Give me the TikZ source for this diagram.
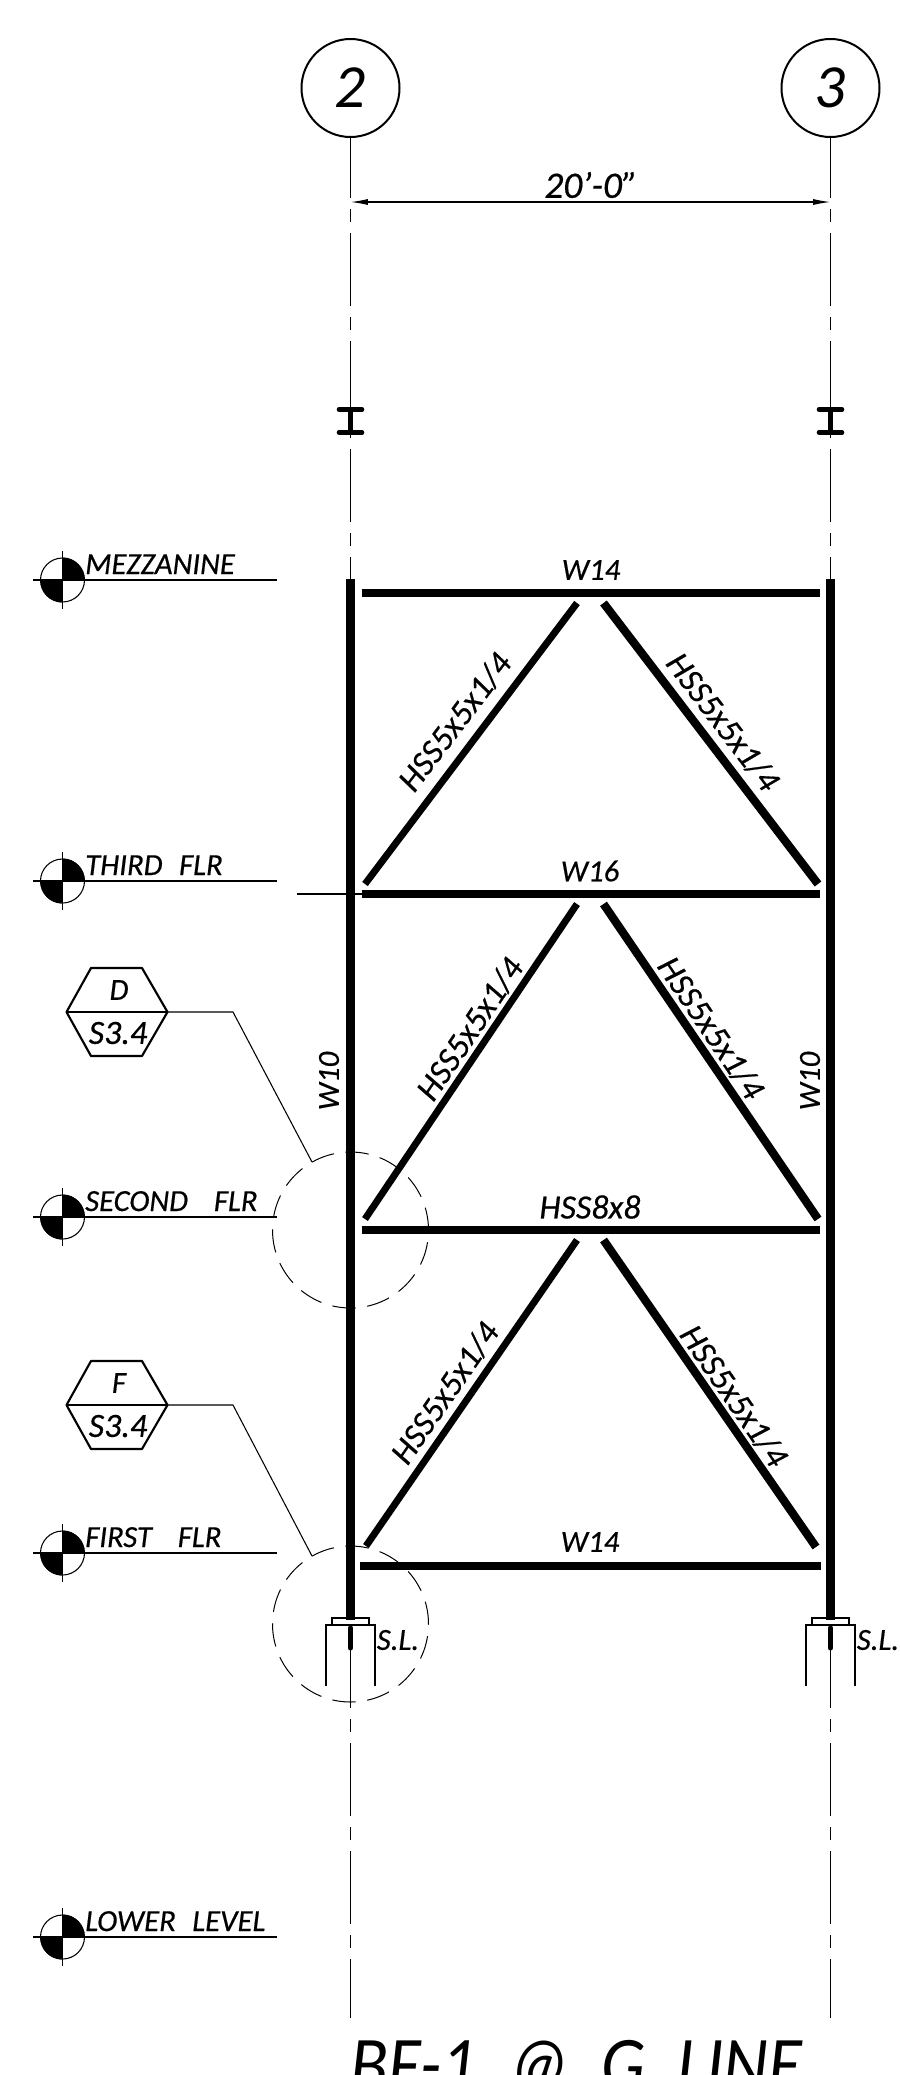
\documentclass[tikz,border=0pt]{standalone}
\usepackage{fontspec}
\setmainfont{Carlito}[ItalicFeatures={FakeBold=.5}]
\newfontfamily\cadthin{Carlito}
\newfontfamily\cadtitle{Carlito}[ItalicFeatures={FakeStretch=.9}]
\usetikzlibrary{arrows.meta}
\tikzset{
	cadtext/.style={inner sep=0pt,font=\itshape\fontsize{23}{23}\selectfont},
	hsstext/.style={inner sep=0pt,font=\itshape\fontsize{25.5}{25.5}\selectfont},
	bubble/.style={draw,shape=circle,line width=1.5pt,minimum size=73.5pt,inner sep=0pt,font=\cadthin\itshape\fontsize{46}{46}\selectfont},
	gridline/.style={line width=.75pt,dash pattern=on 54.75pt off 8.25pt on 9.75pt off 8.25pt,dash phase=9.75pt},
	thinline/.style={line width=.8pt},
	column/.style={line width=6.2pt},
	beam/.style={line width=6.4pt},
	leftbrace/.style={line width=5.2pt},
	rightbrace/.style={line width=6.2pt},
	hexline/.style={line width=1.6pt,line join=round},
	detail/.style={draw,shape=circle,line width=.75pt,minimum size=117pt,inner sep=0pt,dash pattern=on 17.6pt off 8.66pt,dash phase=.6pt},
	levelcirc/.style={draw,shape=circle,line width=.8pt,minimum size=33pt,inner sep=0pt}
}
\begin{document}
\begin{tikzpicture}[x=.75pt,y=-.75pt]
	\useasboundingbox (0,0) rectangle (900,2075);

	\node[bubble] (GA) at (350.5,88) {2};
	\node[bubble] (GB) at (830.5,88) {3};
	\coordinate (CAT) at (350.5,579);
	\coordinate (CBT) at (830.5,579);
	\coordinate (CAB) at (350.5,1620);
	\coordinate (CBB) at (830.5,1620);
	\coordinate (SAB) at (350.5,1648);
	\coordinate (SBB) at (830.5,1648);
	\coordinate (EA) at (350.5,2018);
	\coordinate (EB) at (830.5,2018);

	\draw[gridline] (GA)--(CAT);
	\draw[gridline] (GB)--(CBT);
	\draw[gridline] (SAB)--(EA);
	\draw[gridline] (SBB)--(EB);

	\coordinate (DA) at (350.5,202);
	\coordinate (DB) at (830.5,202);
	\draw[line width=.9pt,{Latex[length=13pt,width=4.5pt]}-{Latex[length=13pt,width=4.5pt]}] (DA)--(DB);
	\node[cadtext,font=\itshape\fontsize{28}{28}\selectfont] (DT) at (591,185) {20'-0"};

	% steel sections on the grid lines
	\foreach \n/\x in {A/350.5,B/830.5}{
		\draw[line width=3.4pt,line cap=round] (\x-11.5,409.5)--(\x+11.5,409.5);
		\draw[line width=3.4pt,line cap=round] (\x-11.5,432.5)--(\x+11.5,432.5);
		\draw[line width=3.6pt] (\x,409.5)--(\x,432.5);
	}

	\draw[column] (CAT)--(CAB);
	\draw[column] (CBT)--(CBB);
	\draw[line width=3.8pt,line cap=round] (350.5,1628)--(SAB);
	\draw[line width=3.8pt,line cap=round] (830.5,1628)--(SBB);

	% base plates and footings
	\foreach \n/\x in {A/350.5,B/830.5}{
		\draw[line width=.9pt] (\x-18.5,1624)--(\x-18.5,1618)--(\x+18.5,1618)--(\x+18.5,1624);
		\draw[line width=1.7pt] (\x-24.5,1686)--(\x-24.5,1625)--(\x+24.5,1625)--(\x+24.5,1686);
	}

	\coordinate (BAL) at (361.5,593);
	\coordinate (BAR) at (819.5,593);
	\coordinate (BBL) at (361.5,894);
	\coordinate (BBR) at (819.5,894);
	\coordinate (BCL) at (361.5,1230);
	\coordinate (BCR) at (819.5,1230);
	\coordinate (BDL) at (359.5,1566);
	\coordinate (BDR) at (820.5,1566);
	\coordinate (BX) at (297,894);
	\draw[beam] (BAL)--(BAR);
	\draw[beam] (BBL)--(BBR);
	\draw[beam] (BCL)--(BCR);
	\draw[beam] (BDL)--(BDR);
	\draw[line width=1.1pt] (BX)--(BBL);

	\node[cadtext] (TA) at (591,570) {W14};
	\node[cadtext] (TB) at (590,871) {W16};
	\node[hsstext] (TC) at (590,1207) {HSS8x8};
	\node[cadtext] (TD) at (590,1542) {W14};
	\node[cadtext,rotate=90] (TE) at (329,1081) {W10};
	\node[cadtext,rotate=90] (TF) at (810,1081) {W10};

	\coordinate (AL) at (365,884);
	\coordinate (AM) at (577,603);
	\coordinate (AN) at (603.5,603);
	\coordinate (AR) at (818,884);
	\coordinate (BL) at (365,1219);
	\coordinate (BM) at (577,904);
	\coordinate (BN) at (603.5,904);
	\coordinate (BR) at (818,1219);
	\coordinate (DL) at (366,1546);
	\coordinate (DM) at (577,1240);
	\coordinate (DN) at (603.5,1240);
	\coordinate (DR) at (816,1547);
	\draw[leftbrace] (AL)--(AM);
	\draw[rightbrace] (AN)--(AR);
	\draw[leftbrace] (BL)--(BM);
	\draw[rightbrace] (BN)--(BR);
	\draw[leftbrace] (DL)--(DM);
	\draw[rightbrace] (DN)--(DR);

	\node[hsstext,rotate=52.8] (HA) at (455,722) {HSS5x5x1/4};
	\node[hsstext,rotate=-52.6] (HB) at (723,722) {HSS5x5x1/4};
	\node[hsstext,rotate=56] (HC) at (470,1029) {HSS5x5x1/4};
	\node[hsstext,rotate=-56] (HD) at (711,1028) {HSS5x5x1/4};
	\node[hsstext,rotate=55.4] (HE) at (445,1393) {HSS5x5x1/4};
	\node[hsstext,rotate=-55.4] (HF) at (734,1396) {HSS5x5x1/4};

	\node[cadtext] (SA) at (398,1640) {S.L.};
	\node[cadtext] (SB) at (878,1640) {S.L.};

	% levels
	\foreach \n/\y/\t in {A/580/MEZZANINE,B/881/THIRD~~\kern2pt FLR,C/1217/SECOND~~\kern9pt FLR,D/1553/FIRST~~\kern9pt FLR,E/1937/LOWER~~\kern2pt LEVEL}{
		\node[levelcirc] (L\n) at (62.5,\y) {};
		\fill (L\n.center)--(L\n.north) arc[start angle=90,end angle=0,radius=16.5pt]--cycle;
		\fill (L\n.center)--(L\n.south) arc[start angle=270,end angle=180,radius=16.5pt]--cycle;
		\coordinate (LL\n) at (33,\y);
		\coordinate (LR\n) at (277,\y);
		\coordinate (LT\n) at (62.5,\y-29);
		\coordinate (LB\n) at (62.5,\y+29);
		\draw[thinline] (LL\n)--(LR\n);
		\draw[thinline] (LT\n)--(LB\n);
		\node[cadtext,anchor=base west] (LN\n) at (85,\y-6) {\t};
	}

	% detail marks
	\foreach \n/\y/\a in {A/1012/D,B/1405/F}{
		\coordinate (XL\n) at (66.5,\y);
		\coordinate (XR\n) at (167.5,\y);
		\draw[hexline] (XL\n)--(91,\y-44)--(142,\y-44)--(XR\n)--(142,\y+44)--(91,\y+44)--cycle;
		\draw[hexline] (XL\n)--(XR\n);
		\node[cadtext] (XA\n) at (119,\y-22) {\a};
		\node[cadtext,font=\itshape\fontsize{25.5}{25.5}\selectfont] (XB\n) at (118,\y+21) {S3.4};
	}
	\node[detail] (RA) at (350.5,1230) {};
	\node[detail] (RB) at (350.5,1624) {};
	\coordinate (KA) at (233,1012);
	\coordinate (KB) at (233,1405);
	\coordinate (MA) at (312,1162);
	\coordinate (MB) at (312,1556);
	\draw[thinline] (XRA)--(KA)--(MA);
	\draw[thinline] (XRB)--(KB)--(MB);

	\node[inner sep=0pt,anchor=base west,font=\cadtitle\itshape\fontsize{58}{58}\selectfont] (TT) at (350,2090) {BF-1~~@~~G~~LINE};
\end{tikzpicture}
\end{document}
